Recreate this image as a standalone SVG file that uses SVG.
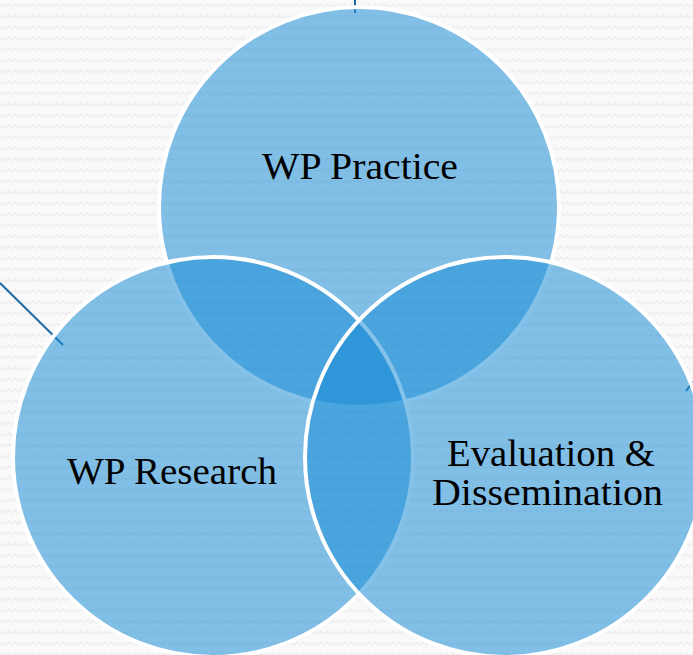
<svg xmlns="http://www.w3.org/2000/svg" width="693" height="655" viewBox="0 0 693 655">
  <defs>
    <pattern id="zig" width="12" height="11" patternUnits="userSpaceOnUse">
      <rect width="12" height="11" fill="#f9f9f9"/>
      <path d="M0 7 L3 4 L6 7 L9 4 L12 7" fill="none" stroke="#eeeeee" stroke-width="1.5"/>
    </pattern>
    <style>
      .circle { fill: rgb(24,140,213); fill-opacity: 0.53; stroke: #ffffff; stroke-width: 4; }
      .label { font-family: "Liberation Serif", "DejaVu Serif", serif; font-size: 37px; fill: #000000; text-anchor: middle; }
      .conn { stroke: #1f6aa5; stroke-width: 2; fill: none; }
    </style>
  </defs>
  <rect width="693" height="655" fill="url(#zig)"/>
  <g id="connectors">
    <line class="conn" x1="355" y1="0" x2="355" y2="13"/>
    <line class="conn" x1="0" y1="283" x2="63" y2="345"/>
    <line class="conn" x1="686" y1="391" x2="694" y2="381"/>
  </g>
  <g id="node-practice">
    <circle class="circle" cx="359" cy="207" r="200"/>
    <text class="label" x="360" y="179" textLength="196" lengthAdjust="spacingAndGlyphs">WP Practice</text>
  </g>
  <g id="node-research">
    <circle class="circle" cx="213" cy="457" r="200"/>
    <text class="label" x="172" y="484" textLength="210" lengthAdjust="spacingAndGlyphs">WP Research</text>
  </g>
  <g id="node-evaluation">
    <circle class="circle" cx="505" cy="457" r="200"/>
    <text class="label" x="551" y="466" textLength="208" lengthAdjust="spacingAndGlyphs">Evaluation &amp;</text>
    <text class="label" x="547.5" y="505" textLength="231" lengthAdjust="spacingAndGlyphs">Dissemination</text>
  </g>
</svg>
